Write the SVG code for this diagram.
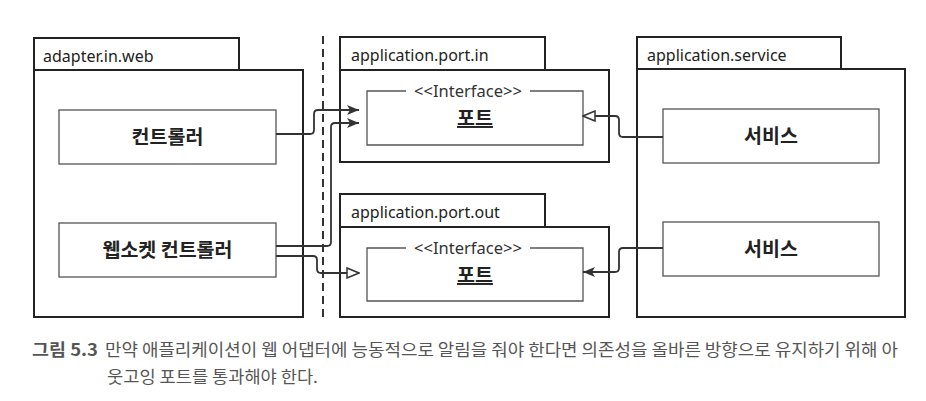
<svg xmlns="http://www.w3.org/2000/svg" width="926" height="401" viewBox="0 0 926 401">
<style>
.pkg{fill:#fff;stroke:#222;stroke-width:2}
.cls{fill:#fff;stroke:#555;stroke-width:1.3}
.lbl{font-family:"Noto Sans","Open Sans",sans-serif;font-size:16px;fill:#222}
.kr{font-family:"Noto Sans CJK KR",sans-serif;font-size:19.5px;font-weight:bold;fill:#222;text-anchor:middle}
.st{font-family:"Noto Sans","Open Sans",sans-serif;font-size:16.5px;fill:#333;text-anchor:middle}
.con{fill:none;stroke:#333;stroke-width:1.8}
.cap{font-family:"Noto Sans CJK KR",sans-serif;font-size:16.5px;fill:#555}
</style>
<defs>
<marker id="arr" viewBox="0 0 12 10" refX="12" refY="5" markerWidth="12" markerHeight="10" markerUnits="userSpaceOnUse" orient="auto">
<path d="M0,0 L12,5 L0,10 L3,5 Z" fill="#333"/>
</marker>
<marker id="tri" viewBox="0 0 14 12" refX="13" refY="6" markerWidth="14" markerHeight="12" markerUnits="userSpaceOnUse" orient="auto">
<path d="M1,1 L13,6 L1,11 Z" fill="#fff" stroke="#333" stroke-width="1.5"/>
</marker>
</defs>
<rect width="926" height="401" fill="#fff"/>

<line x1="323" y1="36" x2="323" y2="317" stroke="#333" stroke-width="2" stroke-dasharray="8,5"/>

<g id="adapter-in-web">
<rect class="pkg" x="34" y="38" width="205" height="32"/>
<rect class="pkg" x="34" y="70" width="269" height="247"/>
<text class="lbl" x="43" y="62">adapter.in.web</text>
</g>
<g id="controller">
<rect class="cls" x="59" y="110" width="217" height="54"/>
<text class="kr" x="167.5" y="144">컨트롤러</text>
</g>
<g id="ws-controller">
<rect class="cls" x="59" y="223" width="217" height="54"/>
<text class="kr" x="167.5" y="257">웹소켓 컨트롤러</text>
</g>

<g id="port-in-pkg">
<rect class="pkg" x="340" y="37" width="205" height="33"/>
<rect class="pkg" x="340" y="70" width="269" height="92"/>
<text class="lbl" x="351" y="61">application.port.in</text>
</g>
<g id="port-in">
<path class="cls" d="M406,91 H367 V145 H583 V91 H530" fill="none"/>
<text class="st" x="468" y="97">&lt;&lt;Interface&gt;&gt;</text>
<text class="kr" x="475" y="125" font-size="18.5" text-decoration="underline">포트</text>
</g>

<g id="port-out-pkg">
<rect class="pkg" x="340" y="194" width="205" height="33"/>
<rect class="pkg" x="340" y="227" width="269" height="90"/>
<text class="lbl" x="351" y="218">application.port.out</text>
</g>
<g id="port-out">
<path class="cls" d="M406,248 H367 V301 H583 V248 H530" fill="none"/>
<text class="st" x="468" y="254">&lt;&lt;Interface&gt;&gt;</text>
<text class="kr" x="475" y="282" font-size="18.5" text-decoration="underline">포트</text>
</g>

<g id="service-pkg">
<rect class="pkg" x="637" y="37" width="204" height="32"/>
<rect class="pkg" x="637" y="69" width="268" height="248"/>
<text class="lbl" x="647" y="61">application.service</text>
</g>
<g id="service1">
<rect class="cls" x="663" y="109" width="216" height="54"/>
<text class="kr" x="771" y="143">서비스</text>
</g>
<g id="service2">
<rect class="cls" x="663" y="222" width="216" height="54"/>
<text class="kr" x="771" y="256">서비스</text>
</g>

<g id="connectors">
<path class="con" d="M276,134 H310 Q314,134 314,130 V114 Q314,110 318,110 H359" marker-end="url(#arr)"/>
<path class="con" d="M276,246 H327 Q331,246 331,242 V127 Q331,123 335,123 H359" marker-end="url(#arr)"/>
<path class="con" d="M276,256 H313 Q317,256 317,260 V269 Q317,273 321,273 H359" marker-end="url(#tri)"/>
<path class="con" d="M663,137 H623 Q619,137 619,133 V120 Q619,116 615,116 H583" marker-end="url(#tri)"/>
<path class="con" d="M663,248 H623 Q619,248 619,252 V268 Q619,272 615,272 H583" marker-end="url(#arr)"/>
</g>

<g id="caption">
<text class="cap" x="32" y="356" font-weight="bold" fill="#333" textLength="66" lengthAdjust="spacingAndGlyphs">그림 5.3</text>
<text class="cap" x="105" y="356" textLength="793" lengthAdjust="spacingAndGlyphs">만약 애플리케이션이 웹 어댑터에 능동적으로 알림을 줘야 한다면 의존성을 올바른 방향으로 유지하기 위해 아</text>
<text class="cap" x="107" y="383" textLength="211" lengthAdjust="spacingAndGlyphs">웃고잉 포트를 통과해야 한다.</text>
</g>
</svg>
